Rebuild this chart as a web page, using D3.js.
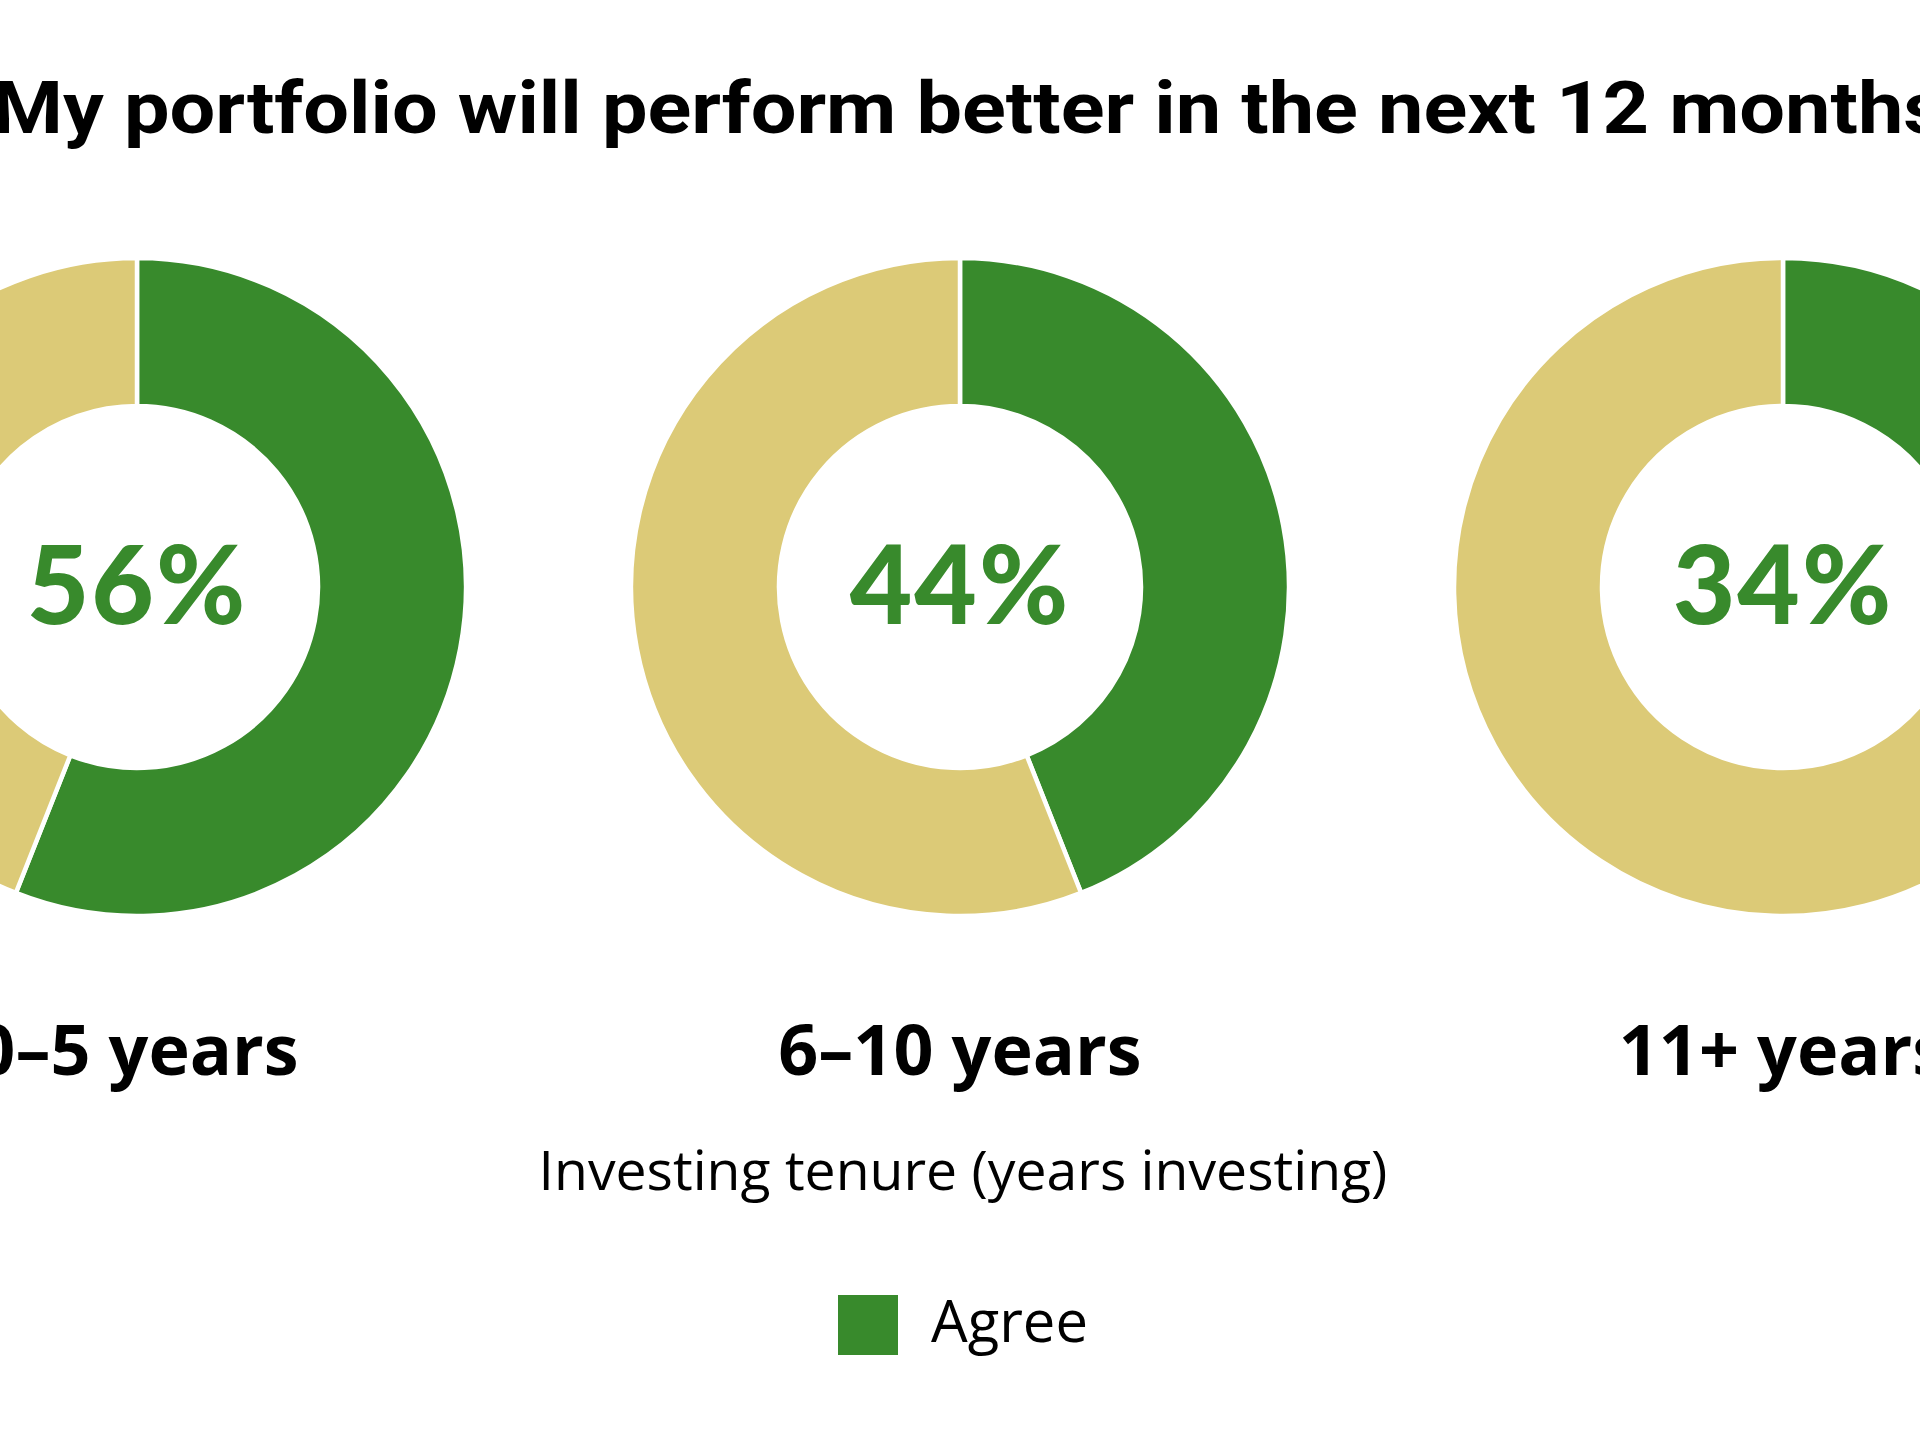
<!DOCTYPE html>
<html>
<head>
<meta charset="utf-8">
<script src="https://cdn.jsdelivr.net/npm/d3@7"></script>
<style>
  html, body { margin: 0; padding: 0; background: #ffffff; }
  svg { display: block; }
</style>
</head>
<body>
<svg id="chart" width="1920" height="1440"></svg>
<script>
// ---- data ----
const title = "My portfolio will perform better in the next 12 months";
const categories = ["0\u20135 years", "6\u201310 years", "11+ years"];
const agreeValues = [56, 44, 34];
const otherValues = [44, 56, 66];
const seriesNames = ["Agree", "Other"];
const axisTitle = "Investing tenure (years investing)";
const legendLabels = ["Agree"];

// ---- styles ----
const W = 1920, H = 1440;
const green = "#388a2c", tan = "#dcca77";
const svg = d3.select("#chart");
svg.append("rect").attr("width", W).attr("height", H).attr("fill", "#fff");

const x = d3.scalePoint().domain(categories).range([137, 1783]);
const cy = 587;
const color = d3.scaleOrdinal().domain(seriesNames).range([green, tan]);

// title (the reference title runs past both edges of the picture)
const t = svg.append("text")
  .attr("x", -8).attr("y", 133)
  .attr("text-anchor", "start")
  .attr("font-family", "Roboto, 'Open Sans', sans-serif")
  .attr("font-weight", 700)
  .attr("font-size", 72)
  .attr("fill", "#000")
  .text(title);
t.attr("textLength", 1953).attr("lengthAdjust", "spacingAndGlyphs");

const pie = d3.pie().sort(null).value(d => d.value);
const arc = d3.arc().innerRadius(181).outerRadius(329);

categories.forEach((c, i) => {
  const g = svg.append("g").attr("transform", `translate(${x(c)},${cy})`);
  const slices = pie([
    { name: seriesNames[0], value: agreeValues[i] },
    { name: seriesNames[1], value: otherValues[i] }
  ]);
  g.selectAll("path").data(slices).join("path")
    .attr("d", arc)
    .attr("fill", d => color(d.data.name))
    .attr("stroke", "#fff")
    .attr("stroke-width", 4.5)
    .attr("stroke-linejoin", "miter");
  g.append("text")
    .attr("x", 0).attr("y", 37)
    .attr("text-anchor", "middle")
    .attr("font-family", "Lato, sans-serif")
    .attr("font-weight", 900)
    .attr("font-size", 108)
    .attr("letter-spacing", 2)
    .attr("fill", green)
    .text(agreeValues[i] + "%");
  svg.append("text")
    .attr("x", x(c)).attr("y", 1075)
    .attr("text-anchor", "middle")
    .attr("font-family", "'Open Sans', 'Noto Sans', sans-serif")
    .attr("font-weight", 700)
    .attr("font-size", 70)
    .attr("fill", "#000")
    .text(c);
});

// axis title
svg.append("text")
  .attr("x", 963).attr("y", 1190)
  .attr("text-anchor", "middle")
  .attr("font-family", "'Open Sans', 'Noto Sans', sans-serif")
  .attr("font-weight", 400)
  .attr("font-size", 55.3)
  .attr("fill", "#000")
  .text(axisTitle);

// legend
const lg = svg.append("g").attr("transform", "translate(838,1295)");
lg.selectAll("rect").data(legendLabels).join("rect")
  .attr("x", 0).attr("y", 0).attr("width", 60).attr("height", 60)
  .attr("fill", d => color(d));
lg.selectAll("text").data(legendLabels).join("text")
  .attr("x", 93).attr("y", 47)
  .attr("font-family", "'Open Sans', 'Noto Sans', sans-serif")
  .attr("font-size", 58)
  .attr("fill", "#000")
  .text(d => d);
</script>
</body>
</html>
